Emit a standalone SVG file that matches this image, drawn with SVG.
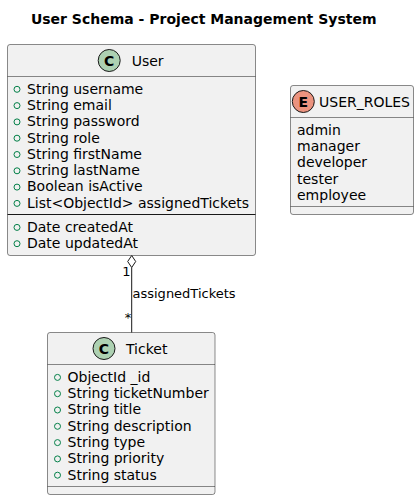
<svg xmlns="http://www.w3.org/2000/svg" width="419" height="500" viewBox="0 0 419 500">
<style>
  .box { fill: #F1F1F1; stroke: #181818; stroke-width: 0.5; }
  .div { stroke: #181818; stroke-width: 0.5; }
  .t { font-family: "DejaVu Sans", "Liberation Sans", sans-serif; font-size: 14px; fill: #000000; }
  .lbl { font-family: "DejaVu Sans", "Liberation Sans", sans-serif; font-size: 13px; fill: #000000; }
  .title { font-family: "DejaVu Sans", "Liberation Sans", sans-serif; font-size: 14px; font-weight: bold; fill: #000000; }
  .vis { fill: none; stroke: #038048; stroke-width: 1; }
  .cc { fill: #ADD1B2; stroke: #181818; stroke-width: 1; }
  .ce { fill: #EB937F; stroke: #181818; stroke-width: 1; }
  .ic { font-family: "DejaVu Sans", "Liberation Sans", sans-serif; font-size: 14px; font-weight: bold; fill: #000000; }
  .link { stroke: #181818; stroke-width: 1; fill: none; }
</style>
<rect width="419" height="500" fill="#FFFFFF"/>
<text class="title" x="203.7" y="23.5" text-anchor="middle">User Schema - Project Management System</text>

<g id="User">
  <rect class="box" x="7.5" y="44.5" width="248" height="211" rx="2.5"/>
  <circle class="cc" cx="109.2" cy="60.5" r="11"/>
  <text class="ic" x="109.2" y="65.5" text-anchor="middle">C</text>
  <text class="t" x="131.7" y="65.5">User</text>
  <line class="div" x1="7.5" y1="76.5" x2="255.5" y2="76.5"/>
  <circle class="vis" cx="17" cy="89.3" r="3"/>
  <text class="t" x="27" y="93.6">String username</text>
  <circle class="vis" cx="17" cy="105.6" r="3"/>
  <text class="t" x="27" y="109.9">String email</text>
  <circle class="vis" cx="17" cy="121.9" r="3"/>
  <text class="t" x="27" y="126.2">String password</text>
  <circle class="vis" cx="17" cy="138.2" r="3"/>
  <text class="t" x="27" y="142.5">String role</text>
  <circle class="vis" cx="17" cy="154.5" r="3"/>
  <text class="t" x="27" y="158.8">String firstName</text>
  <circle class="vis" cx="17" cy="170.8" r="3"/>
  <text class="t" x="27" y="175.1">String lastName</text>
  <circle class="vis" cx="17" cy="187.1" r="3"/>
  <text class="t" x="27" y="191.4">Boolean isActive</text>
  <circle class="vis" cx="17" cy="203.4" r="3"/>
  <text class="t" x="27" y="207.7">List&lt;ObjectId&gt; assignedTickets</text>
  <line x1="7.5" y1="214.5" x2="255.5" y2="214.5" stroke="#181818" stroke-width="1"/>
  <circle class="vis" cx="17" cy="227.4" r="3"/>
  <text class="t" x="27" y="231.7">Date createdAt</text>
  <circle class="vis" cx="17" cy="243.7" r="3"/>
  <text class="t" x="27" y="248">Date updatedAt</text>
</g>

<g id="USER_ROLES">
  <rect class="box" x="290.5" y="85.5" width="123" height="129" rx="2.5"/>
  <circle class="ce" cx="303.3" cy="101.5" r="11"/>
  <text class="ic" x="303.3" y="106.5" text-anchor="middle">E</text>
  <text class="t" x="319" y="106.8">USER_ROLES</text>
  <line class="div" x1="290.5" y1="117.5" x2="413.5" y2="117.5"/>
  <text class="t" x="297" y="134.7">admin</text>
  <text class="t" x="297" y="151">manager</text>
  <text class="t" x="297" y="167.3">developer</text>
  <text class="t" x="297" y="183.6">tester</text>
  <text class="t" x="297" y="199.9">employee</text>
  <line class="div" x1="290.5" y1="206.5" x2="413.5" y2="206.5"/>
</g>

<g id="Ticket">
  <rect class="box" x="47.5" y="332.5" width="167.5" height="162" rx="2.5"/>
  <circle class="cc" cx="104" cy="348.5" r="11"/>
  <text class="ic" x="104" y="353.5" text-anchor="middle">C</text>
  <text class="t" x="126" y="353.8">Ticket</text>
  <line class="div" x1="47.5" y1="364.5" x2="215" y2="364.5"/>
  <circle class="vis" cx="57.5" cy="377.4" r="3"/>
  <text class="t" x="67.5" y="381.7">ObjectId _id</text>
  <circle class="vis" cx="57.5" cy="393.7" r="3"/>
  <text class="t" x="67.5" y="398">String ticketNumber</text>
  <circle class="vis" cx="57.5" cy="410" r="3"/>
  <text class="t" x="67.5" y="414.3">String title</text>
  <circle class="vis" cx="57.5" cy="426.3" r="3"/>
  <text class="t" x="67.5" y="430.6">String description</text>
  <circle class="vis" cx="57.5" cy="442.6" r="3"/>
  <text class="t" x="67.5" y="446.9">String type</text>
  <circle class="vis" cx="57.5" cy="458.9" r="3"/>
  <text class="t" x="67.5" y="463.2">String priority</text>
  <circle class="vis" cx="57.5" cy="475.2" r="3"/>
  <text class="t" x="67.5" y="479.5">String status</text>
  <line class="div" x1="47.5" y1="486.5" x2="215" y2="486.5"/>
</g>

<g id="connectors">
  <path class="link" d="M131.7,267.5 L131.7,332.5"/>
  <polygon points="131.7,255.5 127.7,261.5 131.7,267.5 135.7,261.5" fill="#FFFFFF" stroke="#181818" stroke-width="1"/>
  <text class="lbl" x="126.5" y="275.5" text-anchor="middle">1</text>
  <text class="lbl" x="132.5" y="298">assignedTickets</text>
  <text class="lbl" x="128" y="322" text-anchor="middle">*</text>
</g>
</svg>
